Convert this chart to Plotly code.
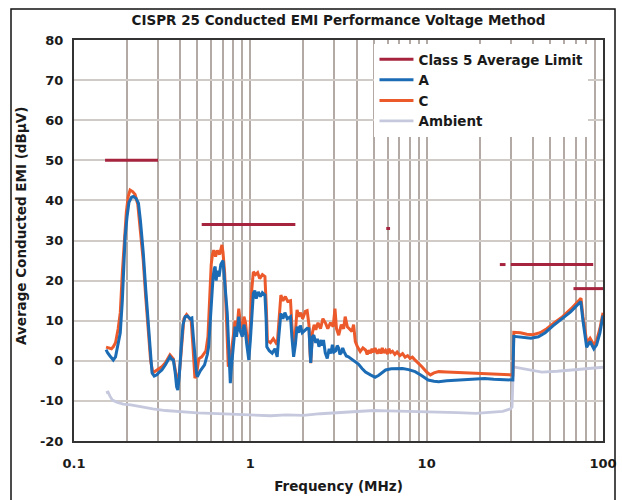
import plotly.graph_objects as go

# ---------------- data ----------------
limit_freq = [0.15, 0.3, None, 0.53, 1.8, None, 5.9, 6.2, None, 26, 28, None, 30, 88, None, 68, 100]
limit_level = [50, 50, None, 34, 34, None, 33, 33, None, 24, 24, None, 24, 24, None, 18, 18]

a_freq = [0.152, 0.155, 0.160, 0.167, 0.172, 0.178, 0.183, 0.188, 0.192, 0.195, 0.200, 0.205, 0.212,
          0.217, 0.225, 0.232, 0.238, 0.247, 0.255, 0.264, 0.270, 0.277, 0.285, 0.295, 0.305, 0.315,
          0.33, 0.35, 0.358, 0.366, 0.375, 0.382, 0.388, 0.395, 0.405, 0.415, 0.427, 0.44, 0.455,
          0.466, 0.475, 0.485, 0.495, 0.50, 0.52, 0.55, 0.57, 0.58, 0.59, 0.60, 0.606, 0.615, 0.625,
          0.632, 0.64, 0.65, 0.665, 0.68, 0.70, 0.71, 0.72, 0.74, 0.755, 0.77, 0.78, 0.80, 0.82,
          0.835, 0.86, 0.875, 0.90, 0.92, 0.935, 0.955, 0.98, 1.0, 1.02, 1.04, 1.06, 1.08, 1.11,
          1.14, 1.17, 1.21, 1.23, 1.24, 1.28, 1.33, 1.38, 1.42, 1.45, 1.49, 1.53, 1.57, 1.62, 1.69,
          1.72, 1.76, 1.80, 1.84, 1.88, 1.92, 1.97, 2.05, 2.10, 2.15, 2.18, 2.20, 2.25, 2.29, 2.35,
          2.40, 2.45, 2.52, 2.56, 2.6, 2.66, 2.73, 2.8, 2.86, 2.92, 2.98, 3.05, 3.11, 3.17, 3.22,
          3.28, 3.34, 3.4, 3.5, 3.6, 3.75, 3.94, 4.1, 4.3, 4.5, 4.8, 5.1, 5.35, 5.6, 5.85, 6.3, 6.8,
          7.3, 7.9, 8.6, 9.3, 10.2, 11.0, 11.7, 13, 15, 17, 19, 21.3, 24, 27, 29.5, 30.8, 31.2, 33,
          36, 39, 43, 47, 52, 58, 65.5, 70, 74.8, 77, 80.8, 84.5, 88.7, 92, 96, 100]
a_level = [2.8, 2.0, 1.2, 0.2, 1.0, 4.0, 7.0, 15, 24, 31, 36, 39.5, 40.8,
           41, 40.5, 39.3, 35, 27, 18, 10, 3, -3, -3.8, -3.5, -2.8, -2.3,
           -1.0, 1.0, 0.4, 0.2, -3, -6.5, -7.3, -4, 3, 9, 11, 11.2, 10.5,
           10.7, 6, 0.2, -3, -4, -2.5, -1, 1.5, 3.5, 9, 16, 18.5, 21, 23,
           23.5, 20, 22.5, 21, 24, 25, 21, 17, 11.8, 3, -5.6, -2, 4, 8.5,
           6, 11, 7.5, 6, 9, 7.7, 4, 0.2, 5, 12, 16.8, 17.5, 15.5, 17.2,
           16, 17, 16.4, 10, 3.5, 2.5, 1.9, 3, 1.0, 6, 11.8, 10.5, 12, 10.5, 11,
           6, 1.0, 4, 8.5, 7, 8.8, 7, 7.7, 8.1, 8, 3, -0.5, 6, 6.4, 4.5,
           5.5, 3.5, 5.2, 3.8, 5.2, 2, 0.6, 3, 1.8, 4.0, 2.2, 2.5, 3.8, 3.1, 1.6,
           2, 3.2, 2.3, 1.2, 1.0, 0.5, -0.2, -0.8, -1.9, -2.8, -3.5, -4.1, -3.6, -3.0, -2.3, -2.0, -2.0,
           -1.9, -2.2, -2.7, -3.6, -4.8, -5.1, -5.2, -5.0, -4.8, -4.6, -4.5, -4.4, -4.6, -4.7, -4.8, -4.8, 6.1, 6.0,
           5.8, 5.6, 6.0, 7.0, 8.7, 10.3, 12.2, 13.5, 14.8, 10, 3.4, 4.8, 3.0, 4, 6.9, 11.3]

c_freq = [0.152, 0.157, 0.163, 0.167, 0.172, 0.178, 0.183, 0.188, 0.193, 0.198, 0.203, 0.208, 0.215,
          0.222, 0.23, 0.238, 0.247, 0.255, 0.263, 0.272, 0.28, 0.29, 0.30, 0.315, 0.33, 0.35, 0.366,
          0.378, 0.388, 0.398, 0.41, 0.42, 0.435, 0.45, 0.462, 0.472, 0.485, 0.495, 0.51, 0.53, 0.56,
          0.575, 0.59, 0.60, 0.61, 0.62, 0.635, 0.65, 0.67, 0.69, 0.70, 0.715, 0.73, 0.75, 0.77, 0.80,
          0.82, 0.84, 0.86, 0.88, 0.90, 0.92, 0.94, 0.96, 0.98, 1.0, 1.02, 1.04, 1.07, 1.10, 1.13,
          1.17, 1.21, 1.23, 1.25, 1.3, 1.35, 1.42, 1.45, 1.49, 1.53, 1.58, 1.63, 1.69, 1.72, 1.76,
          1.80, 1.84, 1.88, 1.93, 1.98, 2.05, 2.10, 2.15, 2.18, 2.20, 2.25, 2.30, 2.35, 2.42, 2.5,
          2.58, 2.67, 2.75, 2.85, 2.95, 3.02, 3.08, 3.17, 3.28, 3.38, 3.45, 3.55, 3.65, 3.77, 3.85,
          3.94, 4.05, 4.2, 4.35, 4.5, 4.6, 4.7, 4.8, 4.9, 5.0, 5.1, 5.25, 5.4, 5.5, 5.6, 5.72, 5.85,
          6.0, 6.1, 6.25, 6.4, 6.6, 6.8, 7.05, 7.3, 7.55, 7.8, 8.05, 8.3, 8.55, 8.8, 9.1, 9.4, 10.0,
          10.5, 11.0, 11.7, 13, 15, 18, 21, 24, 27, 29.5, 30.8, 31.2, 34, 37, 40,
          44, 48, 53, 59, 66, 71, 75, 77, 81, 84.5, 88.7, 92, 96, 100]
c_level = [3.4, 3.2, 3.0, 3.5, 4.5, 8, 12, 22, 31, 37, 41, 42.6, 42.2,
           41.5, 39, 33, 25, 16, 8, 0, -3, -2.5, -2.0, -1.5, -0.5, 1.5, 0.5,
           -3.5, -6, -2, 6, 10.5, 11.5, 10.8, 10.0, 4, -4.3, -3.5, 0.5, 1.0, 2.5,
           6, 16, 24, 26.5, 27.6, 26, 27.5, 26.5, 28.9, 27, 22, 12, -1.5, 0, 6,
           10, 8, 13, 9, 8, 11, 9.5, 5, 2, 9, 18, 22.2, 21.5, 22, 20.5,
           21.5, 21, 14, 5, 4.5, 5.5, 4, 9, 16.4, 15, 16, 14.8, 15, 9, 3,
           7, 12.7, 11, 12, 10.5, 12.3, 12.5, 9, 2, -0.6, 7, 9, 7.7, 9.5, 8,
           10.5, 9.4, 8, 9.5, 8.5, 13, 8, 6.4, 9, 8, 11, 8.5, 8, 7.3, 9,
           4.8, 3.5, 2.3, 3.2, 2.7, 1.6, 2.6, 1.9, 3.0, 2.1, 3.2, 1.8, 2.9, 1.8, 3.2, 2.0, 2.6,
           1.7, 3.0, 2.1, 2.4, 1.6, 2.2, 1.3, 1.8, 0.9, 1.3, 0.6, 0.9, 0.3, -0.2, -0.8, -1.5, -2.8,
           -3.5, -3.0, -2.7, -2.8, -2.9, -3.0, -3.1, -3.2, -3.4, -3.5, -3.5, 7.1, 7.0, 6.6, 6.5,
           7.0, 8.0, 9.5, 11, 13, 14.6, 15.6, 11, 4.5, 5.6, 4, 5, 8, 12]

amb_freq = [0.152, 0.156, 0.16, 0.165, 0.175, 0.19, 0.21, 0.24, 0.28, 0.33, 0.40, 0.5, 0.6, 0.8,
            1.0, 1.3, 1.6, 2.0, 2.5, 3.0, 4.0, 5.0, 6.0, 8.0, 10.0, 12, 15, 19, 23, 27, 29.8,
            30.5, 31.0, 34, 38, 45, 55, 70, 85, 100]
amb_level = [-8.0, -7.8, -8.8, -9.8, -10.3, -10.8, -11.0, -11.5, -12.0, -12.4, -12.7, -13.0, -13.1, -13.3,
             -13.6, -13.7, -13.5, -13.6, -13.2, -13.0, -12.6, -12.4, -12.5, -12.6, -12.7, -12.8, -12.9, -13.1,
             -12.9, -12.6, -12.0, -11.5, -1.5, -1.8, -2.3, -2.8, -2.6, -2.2, -1.9, -1.6]

x_major = [0.1, 1, 10, 100]
x_major_text = ["0.1", "1", "10", "100"]
x_minor = [m * d for d in (0.1, 1, 10) for m in range(2, 10)]
y_ticks = [-20, -10, 0, 10, 20, 30, 40, 50, 60, 70, 80]
y_ticktext = ["-20", "-10", "0", "10", "20", "30", "40", "50", "60", "70", "80"]

# ---------------- figure ----------------
FONT = "DejaVu Sans"
TXT = "#1a1a1a"
fig = go.Figure()

fig.add_trace(go.Scatter(x=amb_freq, y=amb_level, mode="lines", name="Ambient",
                         line=dict(color="#c6c9dd", width=2.8), legendrank=4))
fig.add_trace(go.Scatter(x=c_freq, y=c_level, mode="lines", name="C",
                         line=dict(color="#ec5a2c", width=3), legendrank=3))
fig.add_trace(go.Scatter(x=a_freq, y=a_level, mode="lines", name="A",
                         line=dict(color="#1c6cb5", width=3), legendrank=2))
fig.add_trace(go.Scatter(x=limit_freq, y=limit_level, mode="lines", name="Class 5 Average Limit",
                         line=dict(color="#a6243e", width=3), connectgaps=False, legendrank=1))

fig.update_layout(
    width=622, height=500,
    margin=dict(l=74, r=19, t=40, b=59, autoexpand=False),
    paper_bgcolor="white", plot_bgcolor="white",
    font=dict(family=FONT, size=14, color=TXT, weight=700),
    title=dict(text="CISPR 25 Conducted EMI Performance Voltage Method",
               x=(74 + 603) / 2 / 622, xanchor="center", y=1 - 20 / 500, yanchor="middle",
               font=dict(family=FONT, size=13.5, color=TXT, weight=700)),
    showlegend=True,
    legend=dict(x=0.568, y=0.99, xanchor="left", yanchor="top",
                bgcolor="white", borderwidth=0, tracegroupgap=0,
                font=dict(family=FONT, size=13.5, color=TXT, weight=700),
                itemwidth=34),
    xaxis=dict(type="log", range=[-1, 2],
               tickvals=x_major, ticktext=x_major_text,
               showgrid=True, gridcolor="#b3aaa5", gridwidth=1.5,
               minor=dict(tickvals=x_minor, showgrid=True, gridcolor="#b3aaa5", gridwidth=1.5, ticks=""),
               showline=True, linecolor="#333333", linewidth=2, mirror=True,
               ticks="outside", ticklen=9, tickcolor="rgba(0,0,0,0)",
               tickfont=dict(family=FONT, size=13, weight=700),
               title=dict(text="Frequency (MHz)", standoff=12,
                          font=dict(family=FONT, size=13.5, weight=700)),
               zeroline=False, automargin=False),
    yaxis=dict(range=[-20, 80], tickvals=y_ticks, ticktext=y_ticktext,
               showgrid=True, gridcolor="#d0cbc7", gridwidth=1.5,
               showline=True, linecolor="#333333", linewidth=2, mirror=True,
               ticks="outside", ticklen=6, tickcolor="rgba(0,0,0,0)",
               tickfont=dict(family=FONT, size=13, weight=700),
               zeroline=False, automargin=False),
)

# y-axis title (placed slightly above the plot centre, as in the original)
fig.add_annotation(text="Average Conducted EMI (dBµV)", xref="paper", yref="paper",
                   x=(21 - 74) / 529, y=(441 - 226) / 401, xanchor="center", yanchor="middle",
                   textangle=-90, showarrow=False,
                   font=dict(family=FONT, size=13.5, color=TXT, weight=700))

# outer frame of the figure panel
fig.add_shape(type="rect", xref="paper", yref="paper",
              x0=(11 - 74) / 529, x1=(615 - 74) / 529, y0=-0.3, y1=(441 - 9) / 401,
              line=dict(color="#111111", width=1.5), fillcolor="rgba(0,0,0,0)", layer="above")

fig.write_html("out.html")
